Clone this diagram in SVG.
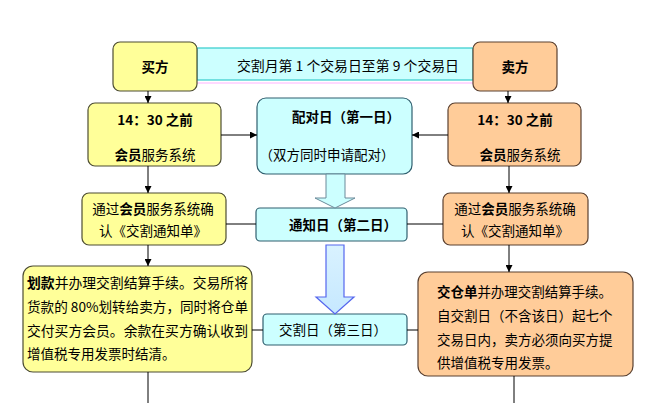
<svg xmlns="http://www.w3.org/2000/svg" width="648" height="403" viewBox="0 0 648 403">
<defs>
<marker id="ah" viewBox="0 0 10 10" refX="10" refY="5" markerWidth="7" markerHeight="7" markerUnits="userSpaceOnUse" orient="auto">
<path d="M0,0 L10,5 L0,10 z" fill="#000"/>
</marker>
<linearGradient id="g2" x1="0" y1="0" x2="0" y2="1">
<stop offset="0" stop-color="#d9f2ff"/>
<stop offset="1" stop-color="#c6e8ff"/>
</linearGradient>
</defs>
<style>
text{font-family:"Noto Sans CJK SC","Liberation Sans",sans-serif;fill:#000;font-size:13.5px}
.c{text-anchor:middle}
.b{font-weight:bold}
.y{fill:#FFFF99;stroke:#4d4d33;stroke-width:1.2}
.o{fill:#FFCC99;stroke:#5a4030;stroke-width:1.2}
.cy{fill:#CCFFFF;stroke:#2f5f6f;stroke-width:1.2}
.ln{stroke:#000;stroke-width:1;fill:none}
</style>
<rect width="648" height="403" fill="#fff"/>
<g id="band">
<rect x="197" y="48" width="276" height="32" fill="#CCFFFF" stroke="#33CCCC" stroke-width="1.2"/>
<line x1="197" y1="83" x2="473" y2="83" stroke="#ffccff" stroke-width="1.5"/>
<text x="348" y="71" class="c" font-size="14" textLength="222" lengthAdjust="spacingAndGlyphs">交割月第 1 个交易日至第 9 个交易日</text>
</g>
<g id="buyer">
<rect x="113" y="42" width="84" height="49" rx="7" class="y"/>
<text x="155" y="72" class="c b" font-size="15">买方</text>
</g>
<g id="seller">
<rect x="473" y="42" width="84" height="49" rx="7" class="o"/>
<text x="515" y="72" class="c b" font-size="15">卖方</text>
</g>
<g id="buyer1430">
<rect x="88" y="103" width="133" height="63" rx="7" class="y"/>
<text x="155" y="125" class="c b" font-size="13">14：30 之前</text>
<text x="155" y="160" class="c"><tspan class="b">会员</tspan>服务系统</text>
</g>
<g id="seller1430">
<rect x="448" y="103" width="133" height="63" rx="7" class="o"/>
<text x="515" y="125" class="c b" font-size="13">14：30 之前</text>
<text x="520" y="160" class="c"><tspan class="b">会员</tspan>服务系统</text>
</g>
<g id="pairday">
<rect x="257" y="98" width="155" height="76" rx="9" class="cy"/>
<text x="346" y="122" class="c b">配对日（第一日）</text>
<text x="327" y="160" class="c" font-size="13">（双方同时申请配对）</text>
</g>
<g id="noticeday">
<rect x="256" y="208" width="151" height="33" rx="4" class="cy"/>
<text x="343" y="230" class="c b">通知日（第二日）</text>
</g>
<g id="deliveryday">
<rect x="263" y="314" width="144" height="31" rx="4" class="cy"/>
<text x="333" y="335" class="c">交割日（第三日）</text>
</g>
<g id="buyerconfirm">
<rect x="82" y="193" width="144" height="52" rx="7" class="y"/>
<text x="153" y="214" class="c">通过<tspan class="b">会员</tspan>服务系统确</text>
<text x="153" y="236" class="c">认《交割通知单》</text>
</g>
<g id="sellerconfirm">
<rect x="443" y="193" width="145" height="52" rx="7" class="o"/>
<text x="515" y="214" class="c">通过<tspan class="b">会员</tspan>服务系统确</text>
<text x="515" y="236" class="c">认《交割通知单》</text>
</g>
<g id="buyerpay">
<rect x="23" y="266" width="229" height="106" rx="10" class="y"/>
<text x="27" y="288" textLength="221" lengthAdjust="spacingAndGlyphs"><tspan class="b">划款</tspan>并办理交割结算手续。交易所将</text>
<text x="27" y="312" textLength="221" lengthAdjust="spacingAndGlyphs">货款的 80%划转给卖方，同时将仓单</text>
<text x="27" y="336" textLength="221" lengthAdjust="spacingAndGlyphs">交付买方会员。余款在买方确认收到</text>
<text x="27" y="359">增值税专用发票时结清。</text>
</g>
<g id="sellerdeliver">
<rect x="418" y="272" width="215" height="104" rx="10" class="o"/>
<text x="437" y="297" textLength="175" lengthAdjust="spacingAndGlyphs"><tspan class="b">交仓单</tspan>并办理交割结算手续。</text>
<text x="437" y="321">自交割日（不含该日）起七个</text>
<text x="437" y="345">交易日内，卖方必须向买方提</text>
<text x="437" y="368">供增值税专用发票。</text>
</g>
<g id="connectors">
<line x1="148" y1="91" x2="148" y2="103" class="ln" marker-end="url(#ah)"/>
<line x1="508" y1="91" x2="508" y2="103" class="ln" marker-end="url(#ah)"/>
<line x1="221" y1="135" x2="257" y2="135" class="ln" marker-end="url(#ah)"/>
<line x1="448" y1="135" x2="412" y2="135" class="ln" marker-end="url(#ah)"/>
<line x1="148" y1="166" x2="148" y2="193" class="ln" marker-end="url(#ah)"/>
<line x1="509" y1="166" x2="509" y2="193" class="ln" marker-end="url(#ah)"/>
<line x1="226" y1="224" x2="256" y2="224" class="ln"/>
<line x1="407" y1="224" x2="443" y2="224" class="ln"/>
<line x1="148" y1="245" x2="148" y2="266" class="ln" marker-end="url(#ah)"/>
<line x1="509" y1="245" x2="509" y2="272" class="ln" marker-end="url(#ah)"/>
<line x1="252" y1="330" x2="263" y2="330" class="ln"/>
<line x1="407" y1="330" x2="418" y2="330" class="ln"/>
<line x1="148" y1="372" x2="148" y2="403" class="ln"/>
<line x1="514" y1="376" x2="514" y2="403" class="ln"/>
<path d="M326,174 L345,174 L345,198 L355,198 L335,208 L315,198 L326,198 Z" fill="#CCFFFF" stroke="#6a8a9a" stroke-width="1"/>
<path d="M326,245 L344,245 L344,297 L354,297 L335,314 L316,297 L326,297 Z" fill="url(#g2)" stroke="#5566ee" stroke-width="1.2"/>
</g>
</svg>
